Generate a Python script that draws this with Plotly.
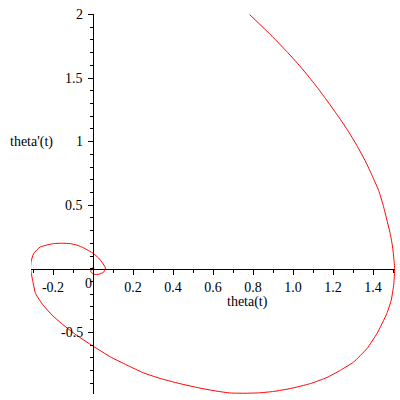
import plotly.graph_objects as go

# phase portrait: theta(t) vs theta'(t)
theta = [
    0.783, 0.896, 0.974, 1.024, 1.064, 1.117, 1.163, 1.205, 1.246, 1.273,
    1.319, 1.364, 1.395, 1.428, 1.451, 1.470, 1.486, 1.498, 1.506, 1.508,
    1.504, 1.491, 1.469, 1.420, 1.370, 1.303, 1.237, 1.170, 1.087,
    0.987, 0.903, 0.828, 0.760, 0.687, 0.620, 0.520, 0.420, 0.337, 0.253,
    0.170, 0.087, 0.003, -0.045, -0.094, -0.157, -0.204, -0.249, -0.287, -0.302,
    -0.312, -0.310, -0.297, -0.264, -0.197, -0.154, -0.114, -0.080, -0.045, 0.000,
    0.028, 0.048, 0.060, 0.062, 0.054, 0.030, 0.006, -0.011, -0.008, 0.003, 0.005,
]
theta_dot = [
    2.000, 1.828, 1.700, 1.613, 1.539, 1.435, 1.338, 1.246, 1.154, 1.090,
    0.971, 0.840, 0.735, 0.617, 0.499, 0.381, 0.277, 0.171, 0.050, 0.000,
    -0.120, -0.248, -0.352, -0.509, -0.627, -0.733, -0.798, -0.855, -0.903,
    -0.942, -0.965, -0.976, -0.979, -0.977, -0.963, -0.934, -0.898, -0.863, -0.819,
    -0.758, -0.693, -0.611, -0.562, -0.509, -0.431, -0.365, -0.287, -0.195, -0.090,
    0.000, 0.053, 0.119, 0.171, 0.198, 0.201, 0.198, 0.186, 0.163, 0.122,
    0.085, 0.045, 0.015, 0.000, -0.025, -0.043, -0.043, -0.025, 0.000, 0.012, 0.005,
]

x_ticks = [-0.2, 0, 0.2, 0.4, 0.6, 0.8, 1.0, 1.2, 1.4]
x_labels = ["-0.2", "", "0.2", "0.4", "0.6", "0.8", "1.0", "1.2", "1.4"]
y_ticks = [-0.5, 0.5, 1, 1.5, 2]
y_labels = ["-0.5", "0.5", "1", "1.5", "2"]

x_range = [-0.31, 1.51]
y_range = [-0.985, 2.004]

font = dict(family="Liberation Serif", size=14, color="black")

fig = go.Figure()
fig.add_trace(
    go.Scatter(
        x=theta,
        y=theta_dot,
        mode="lines",
        line=dict(color="red", width=1, shape="spline", smoothing=0.5),
        hoverinfo="skip",
    )
)

axis_common = dict(
    showline=True,
    linecolor="black",
    linewidth=1,
    ticks="outside",
    ticklen=5,
    tickcolor="black",
    tickwidth=1,
    tickmode="array",
    showgrid=False,
    zeroline=False,
    automargin=False,
    ticklabeloverflow="allow",
    tickfont=font,
    anchor="free",
    minor=dict(
        ticks="outside",
        ticklen=3,
        tickcolor="black",
        tickmode="linear",
        tick0=0,
        dtick=0.1,
        showgrid=False,
    ),
)

# y tick labels as annotations next to the crossing axis
y_label_notes = [
    dict(
        text=lab,
        x=0,
        y=val,
        xref="x",
        yref="y",
        xanchor="right",
        yanchor="middle",
        xshift=-8,
        showarrow=False,
        font=font,
    )
    for val, lab in zip(y_ticks, y_labels)
]

fig.update_layout(
    width=400,
    height=400,
    margin=dict(l=31, r=5, t=14, b=6),
    plot_bgcolor="white",
    paper_bgcolor="white",
    showlegend=False,
    xaxis=dict(
        axis_common,
        range=x_range,
        tickvals=x_ticks,
        ticktext=x_labels,
        position=(0 - y_range[0]) / (y_range[1] - y_range[0]),
    ),
    yaxis=dict(
        axis_common,
        range=y_range,
        tickvals=y_ticks,
        showticklabels=False,
        position=(0 - x_range[0]) / (x_range[1] - x_range[0]),
    ),
    annotations=y_label_notes
    + [
        dict(
            text="0",
            x=-0.024,
            y=-0.114,
            xref="x",
            yref="y",
            showarrow=False,
            font=font,
        ),
        dict(
            text="theta(t)",
            x=0.77,
            y=-0.26,
            xref="x",
            yref="y",
            showarrow=False,
            font=font,
        ),
        dict(
            text="theta'(t)",
            x=0,
            y=0.997,
            xref="paper",
            yref="y",
            xanchor="center",
            showarrow=False,
            font=font,
        ),
    ],
)

# drop the default body margin so the figure sits at the page corner
fig.write_html(
    "out.html",
    config={"displayModeBar": False},
    post_script="document.body.style.margin = '0';",
)
